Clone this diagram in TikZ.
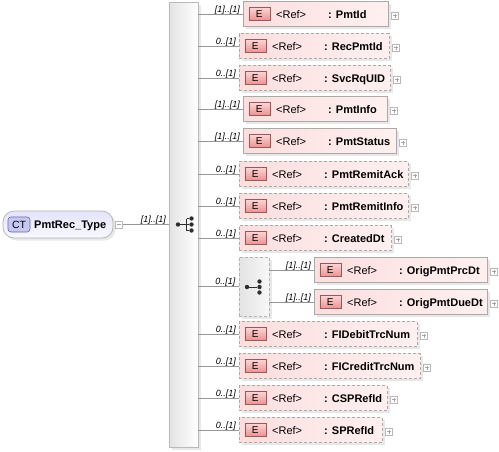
\documentclass[tikz,border=0pt]{standalone}
\usepackage{fontspec}
\setmainfont{Liberation Sans}
\usetikzlibrary{shadows}
\definecolor{lgray}{RGB}{150,150,150}
\definecolor{bgray}{RGB}{170,170,170}
\definecolor{pinkL}{RGB}{252,222,222}
\definecolor{pinkR}{RGB}{255,240,240}
\definecolor{badgeT}{RGB}{252,212,212}
\definecolor{badgeB}{RGB}{236,145,145}
\definecolor{badgeD}{RGB}{150,90,90}
\definecolor{ctT}{RGB}{228,228,252}
\definecolor{ctB}{RGB}{248,248,255}
\definecolor{ctbadge}{RGB}{200,200,245}
\definecolor{ctbadgeD}{RGB}{100,100,170}
\definecolor{iconc}{RGB}{45,45,45}
\begin{document}
\begin{tikzpicture}[x=1pt,y=-1pt,
  conn/.style={draw=lgray, line width=0.7pt},
  elembox/.style={rectangle, draw=bgray, line width=0.7pt, left color=pinkL, right color=pinkR,
    minimum height=25pt, inner sep=0pt, anchor=west,
    drop shadow={opacity=0.18, shadow xshift=2.5pt, shadow yshift=-2.5pt}},
  optbox/.style={elembox, dash pattern=on 3pt off 2pt},
  badge/.style={rectangle, draw=badgeD, line width=0.5pt, top color=badgeT, bottom color=badgeB,
    minimum width=21pt, minimum height=13pt, inner sep=0pt, font=\fontsize{10}{12}\selectfont},
  reftext/.style={inner sep=0pt, anchor=base west, font=\fontsize{11}{13}\selectfont},
  nametext/.style={inner sep=0pt, anchor=base west, font=\fontsize{11}{13}\selectfont\bfseries},
  plusbox/.style={rectangle, draw=gray!55, fill=white, line width=0.5pt, minimum size=7pt, inner sep=0pt,
    path picture={\draw[gray!70, line width=0.5pt]
      ([xshift=-2pt]path picture bounding box.center) -- ([xshift=2pt]path picture bounding box.center)
      ([yshift=-2pt]path picture bounding box.center) -- ([yshift=2pt]path picture bounding box.center);}},
  minusbox/.style={plusbox, path picture={\draw[gray!70, line width=0.5pt]
      ([xshift=-2pt]path picture bounding box.center) -- ([xshift=2pt]path picture bounding box.center);}},
  occ/.style={inner sep=0pt, anchor=base east, font=\fontsize{9}{10}\selectfont\itshape},
  icondot/.style={circle, fill=iconc, inner sep=0pt, minimum size=4.4pt}
]
\useasboundingbox (0,0) rectangle (499,451);

% complex type node
\node[rectangle, rounded corners=11pt, draw=gray!60, line width=0.7pt, top color=ctT, bottom color=ctB,
  minimum width=110pt, minimum height=27pt, inner sep=0pt,
  drop shadow={opacity=0.18, shadow xshift=2.5pt, shadow yshift=-2.5pt}] (ct) at (58,224.5) {};
\node[rectangle, rounded corners=3pt, draw=ctbadgeD, line width=0.6pt, fill=ctbadge,
  minimum width=22pt, minimum height=15pt, inner sep=0pt, font=\fontsize{10.5}{12}\selectfont] (ctb) at (19,224.5) {CT};
\node[nametext] (ctname) at (34,228.5) {PmtRec\_Type};
\node[minusbox] (ctm) at (119,224.5) {};

% sequence bar
\node[rectangle, draw=gray!55, line width=0.7pt, left color=gray!22, right color=white,
  minimum width=29pt, minimum height=445pt, inner sep=0pt,
  drop shadow={opacity=0.18, shadow xshift=2.5pt, shadow yshift=-2.5pt}] (seq) at (183.5,224.5) {};
\draw[conn] (ctm.east) -- (seq.west |- ctm.east);
\node[occ] (ctocc) at (166,222) {[1]..[1]};

% sequence icon
\node[icondot] (sd0) at (178,224.5) {};
\node[icondot] (sd1) at (191.5,218.5) {};
\node[icondot] (sd2) at (191.5,224.5) {};
\node[icondot] (sd3) at (191.5,230.5) {};
\coordinate (sv) at (186.5,224.5);
\draw[iconc, line width=1pt] (sd0) -- (sv) (sv |- sd1) -- (sv |- sd3)
  (sv |- sd1) -- (sd1) (sv) -- (sd2) (sv |- sd3) -- (sd3);

% element rows
\foreach \i/\nm/\l/\r/\y/\st/\oc in {
  1/PmtId/243/388/14/elembox/{[1]..[1]},
  2/RecPmtId/239/389/46/optbox/{0..[1]},
  3/SvcRqUID/239/390/78/optbox/{0..[1]},
  4/PmtInfo/243/387/109/elembox/{[1]..[1]},
  5/PmtStatus/243/396/141/elembox/{[1]..[1]},
  6/PmtRemitAck/239/408/174/optbox/{0..[1]},
  7/PmtRemitInfo/239/408/206/optbox/{0..[1]},
  8/CreatedDt/239/391/238/optbox/{0..[1]},
  9/FIDebitTrcNum/239/417/334/optbox/{0..[1]},
  10/FICreditTrcNum/239/420/366/optbox/{0..[1]},
  11/CSPRefId/239/387/398/optbox/{0..[1]},
  12/SPRefId/239/382/430/optbox/{0..[1]}}{
  \pgfmathsetmacro\w{\r-\l}
  \node[\st, minimum width=\w pt] (e\i) at (\l,\y) {};
  \node[badge, anchor=west] (b\i) at ([xshift=5.5pt]e\i.west) {E};
  \node[reftext] (r\i) at ([xshift=33pt, yshift=-4pt]e\i.west) {<Ref>};
  \node[nametext] (n\i) at ([xshift=85pt, yshift=-4pt]e\i.west) {: \nm};
  \node[plusbox] (p\i) at ([xshift=6.5pt, yshift=-1.5pt]e\i.east) {};
  \draw[conn] (seq.east |- e\i.west) -- (e\i.west);
  \node[occ] (o\i) at ([xshift=-3pt, yshift=2pt]e\i.west) {\oc};
}

% choice
\node[rectangle, draw=gray!60, line width=0.7pt, dash pattern=on 3pt off 2pt, left color=gray!22, right color=gray!6,
  minimum width=30pt, minimum height=59pt, inner sep=0pt,
  drop shadow={opacity=0.18, shadow xshift=2.5pt, shadow yshift=-2.5pt}] (ch) at (254,286.5) {};
\draw[conn] (seq.east |- ch.west) -- (ch.west);
\node[occ] (cho) at ([xshift=-3pt, yshift=2pt]ch.west) {0..[1]};
\node[icondot] (cd0) at (247,287) {};
\node[icondot] (cd1) at (259.5,281.5) {};
\node[icondot] (cd2) at (259.5,287) {};
\node[icondot] (cd3) at (259.5,292.5) {};
\draw[iconc, line width=1pt] (cd0) -- (cd2);

\foreach \i/\nm/\y in {13/OrigPmtPrcDt/270, 14/OrigPmtDueDt/302}{
  \node[elembox, minimum width=173pt] (e\i) at (314,\y) {};
  \node[badge, anchor=west] (b\i) at ([xshift=5.5pt]e\i.west) {E};
  \node[reftext] (r\i) at ([xshift=33pt, yshift=-4pt]e\i.west) {<Ref>};
  \node[nametext] (n\i) at ([xshift=85pt, yshift=-4pt]e\i.west) {: \nm};
  \node[plusbox] (p\i) at ([xshift=6.5pt, yshift=-1.5pt]e\i.east) {};
  \draw[conn] (ch.east |- e\i.west) -- (e\i.west);
  \node[occ] (o\i) at ([xshift=-3pt, yshift=2pt]e\i.west) {[1]..[1]};
}
\end{tikzpicture}
\end{document}
